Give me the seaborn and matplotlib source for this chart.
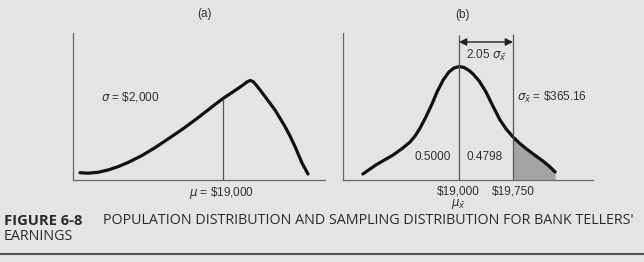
import matplotlib
matplotlib.use("Agg")
import matplotlib.pyplot as plt
import seaborn as sns
import pandas as pd
import numpy as np

# ---------------- data ----------------
# (a) population distribution (skewed): salary ($) vs relative height
pop_x = [11850, 12250, 12750, 13250, 13750, 14250, 14950, 15600, 16250, 16950, 17600,
         18250, 18600, 19000, 19600, 20000, 20200, 20350, 20500, 20700, 21100, 21600,
         22100, 22350, 22600, 22950, 23250]
pop_h = [7.3, 6.8, 7.7, 10, 13.3, 17.5, 24.5, 32.3, 41, 50.5, 60,
         70, 75.5, 81.5, 89.5, 95, 98, 99.5, 98.5, 94, 83.5, 70,
         53.5, 44, 33.5, 17, 6]

# (b) sampling distribution of the mean
samp_x = [17665, 17845, 18085, 18220, 18320, 18390, 18460, 18540, 18625, 18695, 18780,
          18860, 18930, 19000, 19070, 19140, 19195, 19280, 19375, 19470, 19570, 19655,
          19750, 19845, 19930, 20040, 20165, 20250, 20335]
samp_h = [6, 15, 25, 32, 38, 44, 52, 63, 76, 88, 100,
          108, 112, 113.5, 112.5, 109.5, 106, 99, 88, 74, 60, 51,
          43, 36.5, 31.5, 25.5, 19, 14, 8]

mu = 19000
x_cut = 19750
area_labels = ["0.5000", "0.4798"]
pop_sigma_label = r"$\sigma$ = \$2,000"
samp_sigma_label = r"$\sigma_{\bar{x}}$ = \$365.16"
z_label = r"2.05 $\sigma_{\bar{x}}$"
tick_labels_b = ["$19,000", "$19,750"]
caption_bold = "FIGURE 6-8"
caption_text = "POPULATION DISTRIBUTION AND SAMPLING DISTRIBUTION FOR BANK TELLERS'"
caption_line2 = "EARNINGS"

# ---------------- style ----------------
sns.set_style("white")
BG = "#e4e4e4"
plt.rcParams["font.family"] = ["Liberation Sans", "DejaVu Sans"]
plt.rcParams["mathtext.fontset"] = "dejavusans"

W, H = 644, 262
fig = plt.figure(figsize=(W / 100, H / 100), dpi=100, facecolor=BG)

def fx(px):
    return px / W

def fy(py):
    return 1 - py / H

TXT = "#303030"
CURVE = "#111111"
SPINE = "#666666"

ax_bottom = fy(180)
ax_h = (180 - 33) / H
ax_a = fig.add_axes([fx(73), ax_bottom, (325 - 73) / W, ax_h])
ax_b = fig.add_axes([fx(343), ax_bottom, (593 - 343) / W, ax_h])

for ax in (ax_a, ax_b):
    ax.set_facecolor(BG)
    for s in ("top", "right"):
        ax.spines[s].set_visible(False)
    for s in ("left", "bottom"):
        ax.spines[s].set_color(SPINE)
        ax.spines[s].set_linewidth(0.9)
    ax.set_xticks([])
    ax.set_yticks([])
    ax.set_ylim(0, 147)

# ---------------- panel (a) ----------------
dfa = pd.DataFrame({"x": pop_x, "h": pop_h})
sns.lineplot(data=dfa, x="x", y="h", ax=ax_a, color=CURVE, linewidth=2.3,
             sort=False, estimator=None, solid_joinstyle="round", solid_capstyle="round")
ax_a.set_xlim(11500, 24100)
mu_h_a = pop_h[pop_x.index(mu)]
ax_a.vlines(mu, 0, mu_h_a, color="#555555", linewidth=0.9)
ax_a.set_xlabel("")
ax_a.set_ylabel("")
ax_a.text(14350, 83, pop_sigma_label, ha="center", va="center", fontsize=8.5, color=TXT)
fig.text(fx(222), fy(193), r"$\mu$ = \$19,000", ha="center", va="center", fontsize=8.5, color=TXT)
fig.text(fx(204), fy(14), "(a)", ha="center", va="center", fontsize=8.5, color=TXT)

# ---------------- panel (b) ----------------
dfb = pd.DataFrame({"x": samp_x, "h": samp_h})
sns.lineplot(data=dfb, x="x", y="h", ax=ax_b, color=CURVE, linewidth=2.3,
             sort=False, estimator=None, solid_joinstyle="round", solid_capstyle="round")
ax_b.set_xlim(17389, 20861)
ax_b.set_xlabel("")
ax_b.set_ylabel("")
xs = np.array(samp_x)
hs = np.array(samp_h)
mask = xs >= x_cut
ax_b.fill_between(xs[mask], 0, hs[mask], color="#a3a3a3", linewidth=0, zorder=1)
ax_b.vlines(mu, 0, 145, color="#555555", linewidth=0.9)
ax_b.vlines(x_cut, 0, 146, color="#555555", linewidth=0.9)
ax_b.annotate("", xy=(x_cut, 138), xytext=(mu, 138),
              arrowprops=dict(arrowstyle="<|-|>", color="#222222", lw=1.0,
                              mutation_scale=11, shrinkA=0, shrinkB=0))
ax_b.text((mu + x_cut) / 2, 125, z_label, ha="center", va="center", fontsize=8.5, color=TXT)
ax_b.text(19800, 83, samp_sigma_label, ha="left", va="center", fontsize=8.5, color=TXT)
ax_b.text(18640, 23, area_labels[0], ha="center", va="center", fontsize=8.5, color=TXT)
ax_b.text(19360, 23, area_labels[1], ha="center", va="center", fontsize=8.5, color=TXT)
fig.text(fx(458), fy(191), tick_labels_b[0], ha="center", va="center", fontsize=8.5, color=TXT)
fig.text(fx(513), fy(191), tick_labels_b[1], ha="center", va="center", fontsize=8.5, color=TXT)
fig.text(fx(458), fy(204), r"$\mu_{\bar{x}}$", ha="center", va="center", fontsize=8.5, color=TXT)
fig.text(fx(462), fy(15), "(b)", ha="center", va="center", fontsize=8.5, color=TXT)

# ---------------- caption ----------------
cap_font = ["Open Sans", "DejaVu Sans"]
fig.text(fx(4), fy(221), caption_bold, ha="left", va="center", fontsize=10.6,
         fontweight="bold", family=cap_font, color="#2a2a2a")
fig.text(fx(103), fy(221), caption_text, ha="left", va="center", fontsize=10.3,
         family=cap_font, color="#2a2a2a")
fig.text(fx(4), fy(237), caption_line2, ha="left", va="center", fontsize=10.3,
         family=cap_font, color="#2a2a2a")
fig.add_artist(plt.Line2D([0, 1], [fy(254), fy(254)], color="#555555", linewidth=1.5,
                          transform=fig.transFigure))

fig.savefig("out.png", dpi=100, facecolor=BG)
